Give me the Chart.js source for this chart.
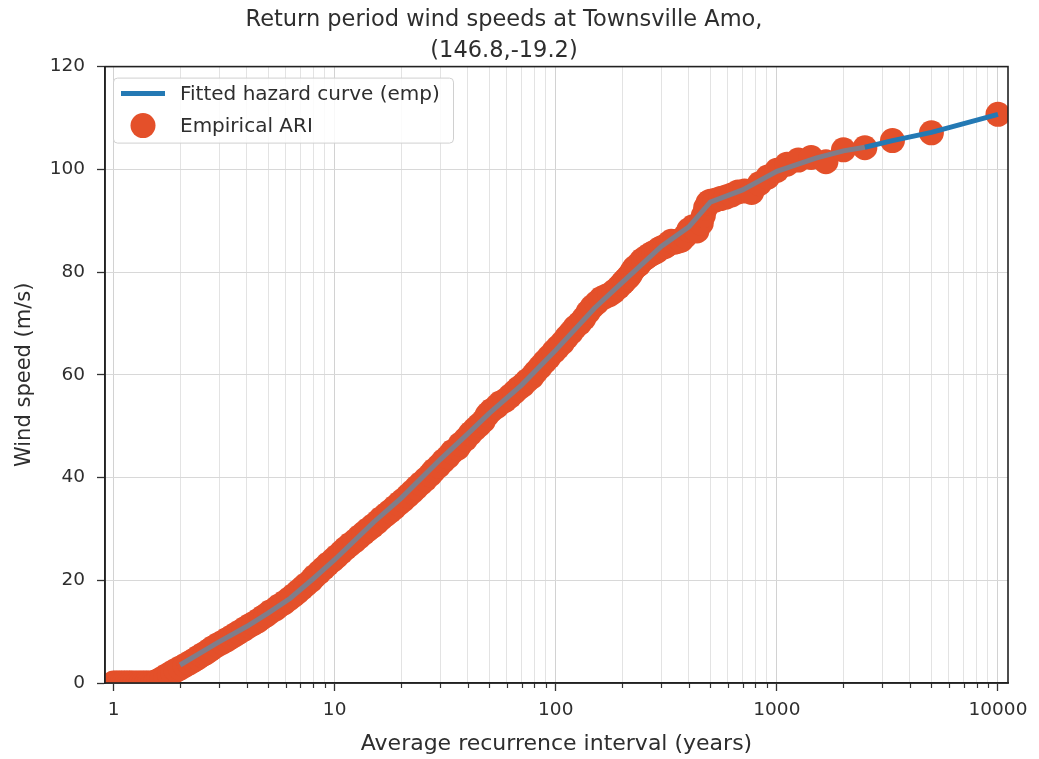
<!DOCTYPE html>
<html>
<head>
<meta charset="utf-8">
<script src="https://cdn.jsdelivr.net/npm/chart.js@4"></script>
<style>
  html, body { margin: 0; padding: 0; background: #ffffff; }
  #wrap { width: 1039px; height: 759px; }
</style>
</head>
<body>
<div id="wrap"><canvas id="c" width="1039" height="759"></canvas></div>
<script>
// ---------- data ----------
const TITLE_LINES = ['Return period wind speeds at Townsville Amo,', '(146.8,-19.2)'];
const X_LABEL = 'Average recurrence interval (years)';
const Y_LABEL = 'Wind speed (m/s)';
const FIT_LABEL = 'Fitted hazard curve (emp)';
const EMP_LABEL = 'Empirical ARI';

const ARI_EMPIRICAL = [
  1.00, 1.03, 1.06, 1.09, 1.12, 1.15, 1.18, 1.21, 1.25, 1.29, 1.33, 1.37, 1.41, 1.45, 1.50,
  1.55, 1.60, 1.66, 1.72, 1.79, 1.85, 1.92, 2.0, 2.1, 2.2, 2.3, 2.4, 2.5, 2.6, 2.7, 2.8, 2.95,
  3.1, 3.25, 3.4, 3.55, 3.7, 3.9, 4.1, 4.3, 4.5, 4.7, 4.9, 5.1, 5.4, 5.6, 5.9, 6.2, 6.5, 6.8,
  7.1, 7.4, 7.8, 8.1, 8.5, 8.9, 9.3, 9.8, 10.2, 10.7, 11.2, 11.7, 12.3, 12.9, 13.5, 14.1, 14.8,
  15.5, 16.2, 17.0, 17.8, 18.6, 19.5, 20.4, 21.4, 22.4, 23.4, 24.5, 25.7, 27, 28, 29.5, 31,
  32.5, 34, 36, 37, 39, 41, 43, 45, 47, 49, 51, 54, 56, 59, 62, 65, 68, 71, 74, 78, 81, 85,
  89, 93, 98, 102, 107, 112, 117, 122, 128, 134, 140, 146, 153, 160, 167, 175, 183, 192, 200,
  204, 208, 213, 217, 222, 227, 233, 238, 244, 250, 256, 263, 270, 278, 286, 294, 303, 313,
  323, 333, 345, 357, 370, 385, 400, 417, 435, 455, 465, 476, 488, 500, 526, 556, 588, 625,
  667, 714, 769, 833, 909, 1000, 1111, 1250, 1429, 1667, 2000, 2500, 3333, 5000, 10000
];
const WIND_EMPIRICAL = [
  0, 0, 0, 0, 0, 0, 0, 0, 0, 0, 0, 0, 0, 0, 0,
  0.2, 0.5, 0.9, 1.3, 1.7, 2.1, 2.5, 2.9, 3.4, 3.9, 4.4, 4.9, 5.4, 5.8, 6.3, 6.8, 7.4,
  7.9, 8.4, 8.9, 9.4, 9.9, 10.5, 11.1, 11.6, 12.1, 12.7, 13.2, 13.8, 14.4, 15.0, 15.6, 16.3, 17.0, 17.7,
  18.4, 19.1, 19.9, 20.7, 21.5, 22.3, 23.1, 23.9, 24.6, 25.4, 26.2, 26.9, 27.6, 28.4, 29.1, 29.8, 30.5,
  31.2, 32.0, 32.7, 33.4, 34.1, 34.9, 35.6, 36.4, 37.2, 38.0, 38.8, 39.6, 40.5, 41.3, 42.2, 43.2,
  44.0, 45.0, 45.7, 46.5, 47.4, 48.5, 49.4, 50.2, 51.0, 52.2, 53.0, 53.8, 54.5, 55.0, 55.8, 56.6, 57.4, 58.0, 58.8, 59.6, 60.5, 61.5,
  62.5, 63.4, 64.5, 65.3, 66.2, 67.3, 68.2, 69.2, 70.0, 71.0, 72.2, 73.2, 74.0, 74.8, 75.2, 75.6, 76.2, 77.0, 77.8,
  78.2, 78.6, 79.0, 79.5, 80.2, 80.8, 81.2, 81.5, 82.2, 82.5, 82.8, 83.2, 83.5, 83.8, 84.0, 84.5, 84.8, 85.0,
  85.5, 86.0, 85.8, 86.0, 86.2, 87.0, 88.2, 88.8, 88.0, 89.5, 91.0, 92.5, 93.5, 93.8, 94.0, 94.3, 94.6, 95.0,
  95.6, 95.8, 95.5, 97.2, 98.5, 99.8, 101.0, 101.8, 102.3, 101.5, 103.8, 104.2, 105.6, 107.1, 110.7
];

const ARI_FITTED = [2, 3, 4, 5, 6.3, 8, 10, 15, 20, 30, 40, 50, 70, 100, 150, 200, 300, 400, 500,
  700, 1000, 1500, 2000, 2500, 3333, 5000, 10000];
const WIND_FITTED = [3.5, 8.0, 11.0, 13.6, 16.5, 20.3, 24.0, 31.3, 36.0, 43.5, 48.5, 52.5, 58.0, 64.8, 73.0, 78.0, 85.0, 88.8, 93.6,
  96.0, 99.6, 102.2, 103.6, 104.3, 105.6, 107.2, 110.7];

const X_TICKS = [1,2,3,4,5,6,7,8,9,10,20,30,40,50,60,70,80,90,100,200,300,400,500,600,700,800,900,
  1000,2000,3000,4000,5000,6000,7000,8000,9000,10000];
const X_MAJOR_TICKS = [1, 10, 100, 1000, 10000];
const X_TICK_LABELS = ['1', '10', '100', '1000', '10000'];
const Y_TICKS = [0, 20, 40, 60, 80, 100, 120];

// ---------- styles ----------
const FONT = "'DejaVu Sans', 'Liberation Sans', sans-serif";
const TEXT = '#2e2e2e';
const BLUE = '#2479b4';
const ORANGE = '#e4502a';
const OVERLAP_GRAY = '#7f7d8a';
const OVERLAP_LIMIT = 2500;

const fittedPts = ARI_FITTED.map((x, i) => ({ x: x, y: WIND_FITTED[i] }));
const empiricalPts = ARI_EMPIRICAL.map((x, i) => ({ x: x, y: WIND_EMPIRICAL[i] }));

const frameAndTicks = {
  id: 'frameAndTicks',
  afterDraw(chart) {
    const { ctx, chartArea: a, scales } = chart;
    ctx.save();
    ctx.strokeStyle = '#333';
    ctx.lineWidth = 1.2;
    X_TICKS.forEach(v => {
      if (X_MAJOR_TICKS.includes(v)) return;
      const px = Math.round(scales.x.getPixelForValue(v)) + 0.5;
      ctx.beginPath(); ctx.moveTo(px, a.bottom); ctx.lineTo(px, a.bottom + 5); ctx.stroke();
    });
    ctx.strokeStyle = '#222';
    ctx.lineWidth = 1.6;
    ctx.strokeRect(a.left, a.top, a.right - a.left, a.bottom - a.top);
    ctx.restore();
  }
};

const insideLegend = {
  id: 'insideLegend',
  afterDatasetsDraw(chart) {
    const { ctx, chartArea: a } = chart;
    const x0 = a.left + 8, y0 = a.top + 11, w = 340, h = 65;
    ctx.save();
    ctx.fillStyle = 'rgba(255,255,255,0.85)';
    ctx.strokeStyle = '#d0d0d0';
    ctx.lineWidth = 1;
    ctx.beginPath();
    ctx.roundRect(x0 + 0.5, y0 + 0.5, w, h, 4);
    ctx.fill(); ctx.stroke();
    ctx.font = "20px " + FONT;
    ctx.textBaseline = 'middle';
    chart.data.datasets.forEach((ds, i) => {
      const cy = y0 + 16 + i * 32;
      if (ds.type === 'line') {
        ctx.strokeStyle = ds.borderColor;
        ctx.lineWidth = ds.borderWidth;
        ctx.beginPath(); ctx.moveTo(x0 + 8, cy); ctx.lineTo(x0 + 52, cy); ctx.stroke();
      } else {
        ctx.fillStyle = ds.backgroundColor;
        ctx.beginPath(); ctx.arc(x0 + 30, cy, 12.5, 0, Math.PI * 2); ctx.fill();
      }
      ctx.fillStyle = TEXT;
      ctx.fillText(ds.label, x0 + 67, cy + 1);
    });
    ctx.restore();
  }
};

new Chart(document.getElementById('c'), {
  data: {
    datasets: [
      {
        type: 'line',
        label: FIT_LABEL,
        data: fittedPts,
        borderColor: BLUE,
        borderWidth: 5,
        pointRadius: 0,
        pointHoverRadius: 0,
        fill: false,
        tension: 0,
        order: 0,
        clip: 0,
        segment: {
          borderColor: c => (c.p1.parsed.x <= OVERLAP_LIMIT ? OVERLAP_GRAY : BLUE)
        }
      },
      {
        type: 'scatter',
        label: EMP_LABEL,
        data: empiricalPts,
        backgroundColor: ORANGE,
        borderColor: ORANGE,
        borderWidth: 0,
        pointRadius: 12.5,
        pointHoverRadius: 12.5,
        order: 1,
        clip: 0
      }
    ]
  },
  options: {
    responsive: false,
    animation: false,
    events: [],
    layout: { padding: { left: 0, right: 31, top: 0, bottom: 0 } },
    plugins: {
      legend: { display: false },
      tooltip: { enabled: false },
      title: {
        display: true,
        text: TITLE_LINES,
        color: TEXT,
        font: { family: FONT, size: 22.5, weight: 'normal', lineHeight: 1.38 },
        padding: { top: 4.5, bottom: 0 }
      }
    },
    scales: {
      x: {
        type: 'logarithmic',
        position: 'bottom',
        min: 0.915,
        max: 11100,
        afterFit: s => { s.height = 76; },
        afterBuildTicks: s => {
          s.ticks = X_TICKS.map(v => ({ value: v, major: X_MAJOR_TICKS.includes(v) }));
        },
        ticks: {
          autoSkip: false,
          maxRotation: 0,
          minRotation: 0,
          padding: 8,
          color: TEXT,
          font: { family: FONT, size: 18.5 },
          callback: v => {
            const k = X_MAJOR_TICKS.indexOf(v);
            return k >= 0 ? X_TICK_LABELS[k] : '';
          }
        },
        grid: {
          display: true,
          drawTicks: true,
          tickLength: 8,
          color: c => (c.tick && c.tick.major ? '#d2d2d2' : '#e3e3e3'),
          lineWidth: 1,
          tickColor: c => (c.tick && c.tick.major ? '#333' : 'rgba(0,0,0,0)'),
          tickWidth: 1.3
        },
        border: { display: true, color: '#222', width: 1.6 },
        title: {
          display: true,
          text: X_LABEL,
          color: TEXT,
          font: { family: FONT, size: 22 },
          padding: { top: 0, bottom: 2 }
        }
      },
      y: {
        type: 'linear',
        position: 'left',
        min: 0,
        max: 120,
        afterFit: s => { s.width = 105; },
        afterBuildTicks: s => { s.ticks = Y_TICKS.map(v => ({ value: v })); },
        ticks: {
          padding: 12,
          color: TEXT,
          font: { family: FONT, size: 18.5 }
        },
        grid: {
          color: '#d8d8d8',
          lineWidth: 1,
          tickLength: 8,
          tickColor: '#333',
          tickWidth: 1.3
        },
        border: { display: true, color: '#222', width: 1.6 },
        title: {
          display: true,
          text: Y_LABEL,
          color: TEXT,
          font: { family: FONT, size: 21 },
          padding: { top: 12, bottom: 0 }
        }
      }
    }
  },
  plugins: [insideLegend, frameAndTicks]
});
</script>
</body>
</html>
